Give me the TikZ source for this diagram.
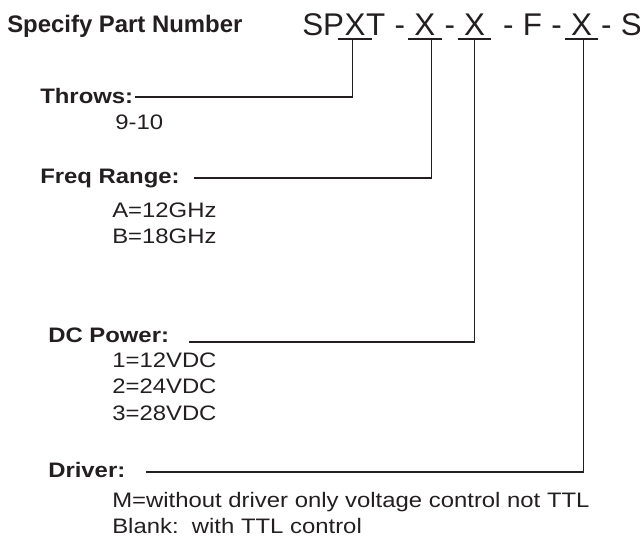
\documentclass[tikz,border=0pt]{standalone}
\usepackage{fontspec}
\setmainfont{Liberation Sans}[FakeStretch=1.14]
\newfontfamily\hdrfont{Liberation Sans}
\usepackage{xcolor}
\usepackage{tikz}
\usetikzlibrary{positioning, calc}
\definecolor{inkDark}{HTML}{231F20}
\newcommand{\pnsp}{6.2pt}

\begin{document}
\begin{tikzpicture}[
    x=0.025cm, y=-0.025cm,
    ttl/.style={inner sep=0pt, anchor=base west, text=inkDark,
      font=\hdrfont\bfseries\fontsize{17}{20}\selectfont},
    pn/.style={inner sep=0pt, anchor=base west, text=inkDark,
      font=\hdrfont\fontsize{22.3}{26}\selectfont},
    lbl/.style={inner sep=0pt, anchor=base west, text=inkDark,
      font=\bfseries\fontsize{14.9}{18}\selectfont},
    val/.style={inner sep=0pt, anchor=base west, text=inkDark,
      font=\fontsize{14.9}{18}\selectfont},
    lead/.style={draw=inkDark, line width=0.8pt}
  ]
  \useasboundingbox (0,0) rectangle (640,541);

  \node[ttl] (title) at (7,32) {Specify Part Number};

  % part number
  \node[pn] (pnSP) at (302,35) {SP};
  \node[pn, base right=0pt of pnSP] (pnX1) {X};
  \node[pn, base right=0pt of pnX1] (pnT) {T};
  \node[pn, base right=\pnsp of pnT] (pnH1) {-};
  \node[pn, base right=\pnsp of pnH1] (pnX2) {X};
  \node[pn, base right=\pnsp of pnX2] (pnH2) {-};
  \node[pn, base right=\pnsp of pnH2] (pnX3) {X};
  \node[pn, base right=12.4pt of pnX3] (pnH3) {-};
  \node[pn, base right=\pnsp of pnH3] (pnF) {F};
  \node[pn, base right=\pnsp of pnF] (pnH4) {-};
  \node[pn, base right=\pnsp of pnH4] (pnX4) {X};
  \node[pn, base right=\pnsp of pnX4] (pnH5) {-};
  \node[pn, base right=\pnsp of pnH5] (pnS) {S};

  \draw[lead] ($(pnX1.base west)+(-6,4)$) -- ($(pnX1.base east)+(6,4)$);
  \draw[lead] ($(pnX2.base west)+(-6,4)$) -- ($(pnX2.base east)+(6,4)$);
  \draw[lead] ($(pnX3.base west)+(-6,4)$) -- ($(pnX3.base east)+(6,4)$);
  \draw[lead] ($(pnX4.base west)+(-6,4)$) -- ($(pnX4.base east)+(6,4)$);

  \coordinate (tap1) at ($(pnX1.base)+(-2.5,4)$);
  \coordinate (tap2) at ($(pnX2.base)+(7,4)$);
  \coordinate (tap3) at ($(pnX3.base)+(0,4)$);
  \coordinate (tap4) at ($(pnX4.base)+(2,4)$);

  % options
  \node[lbl] (lblThrows) at (40,103) {Throws:};
  \node[val] (valThrows) at (115,129) {9-10};

  \node[lbl] (lblFreq) at (40,183) {Freq Range:};
  \node[val] (valFreqA) at (112,217) {A=12GHz};
  \node[val] (valFreqB) at (112,243) {B=18GHz};

  \node[lbl] (lblPower) at (48,342) {DC Power:};
  \node[val] (valPower1) at (112,367) {1=12VDC};
  \node[val] (valPower2) at (112,393) {2=24VDC};
  \node[val] (valPower3) at (112,420) {3=28VDC};

  \node[lbl] (lblDriver) at (48,477) {Driver:};
  \node[val] (valDriverM) at (112,507) {M=without driver only voltage control not TTL};
  \node[val] (valDriverB) at (112,533) {Blank:\ \ with TTL control};

  \draw[lead] ($(lblThrows.base east)+(2,-6)$) -| (tap1);
  \draw[lead] ($(lblFreq.base east)+(14,-5)$) -| (tap2);
  \draw[lead] ($(lblPower.base east)+(20,0)$) -| (tap3);
  \draw[lead] ($(lblDriver.base east)+(20,-5)$) -| (tap4);
\end{tikzpicture}
\end{document}
